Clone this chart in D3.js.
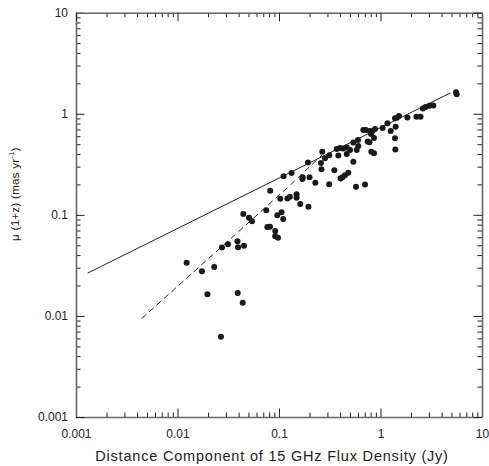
<!DOCTYPE html>
<html>
<head>
    <title>Proper motion vs flux density</title>
    <script src="https://d3js.org/d3.v7.min.js"></script>
    <style>
        body { margin: 0; background: #fff; }
        text { font-family: "Liberation Sans", Arial, sans-serif; fill: #222; }
        .domain { stroke: #666; stroke-width: 1.6; }
        .tick line { stroke: #222; stroke-width: 1; }
        .tick text { font-size: 12px; }
        .axis-label { font-size: 14.5px; letter-spacing: 0.8px; }
    </style>
</head>
<body>
<div id="chart"></div>
<script>
    // Data: distance component of 15 GHz flux density (Jy) and mu(1+z) (mas/yr)
    const fluxDensity = [
        0.0123, 0.0174, 0.0230, 0.0197, 0.0268, 0.0274, 0.0314, 0.0390, 0.0395, 0.0452,
        0.0392, 0.0439, 0.0445, 0.0506, 0.0542, 0.0750, 0.0767, 0.0815, 0.0919, 0.0917,
        0.0977, 0.0819, 0.0962, 0.106, 0.110, 0.103, 0.121, 0.128, 0.149, 0.149,
        0.162, 0.195, 0.111, 0.133, 0.170, 0.171, 0.200, 0.228, 0.312, 0.193,
        0.259, 0.262, 0.267, 0.284, 0.313, 0.351, 0.384, 0.404, 0.422, 0.447,
        0.482, 0.540, 0.465, 0.370, 0.399, 0.427, 0.465, 0.501, 0.583, 0.604,
        0.540, 0.600, 0.574, 0.704, 0.677, 0.720, 0.748, 0.779, 0.812, 0.863,
        0.788, 0.834, 0.883, 0.806, 0.863, 1.05, 1.17, 1.26, 1.41, 1.39,
        1.40, 1.39, 1.45, 1.52, 1.84, 2.26, 2.48, 2.61, 2.78, 3.03,
        3.31, 5.55, 5.63
    ];
    const properMotion = [
        0.0336, 0.0277, 0.0304, 0.0164, 0.00623, 0.0476, 0.0513, 0.0549, 0.0479, 0.0495,
        0.0169, 0.0135, 0.102, 0.0938, 0.0866, 0.111, 0.0759, 0.0764, 0.0693, 0.0615,
        0.0595, 0.173, 0.0993, 0.106, 0.0911, 0.144, 0.145, 0.151, 0.160, 0.148,
        0.128, 0.120, 0.241, 0.260, 0.226, 0.236, 0.236, 0.208, 0.201, 0.329,
        0.325, 0.282, 0.421, 0.364, 0.388, 0.277, 0.387, 0.229, 0.236, 0.247,
        0.261, 0.335, 0.399, 0.447, 0.458, 0.454, 0.465, 0.437, 0.437, 0.479,
        0.519, 0.549, 0.190, 0.200, 0.690, 0.690, 0.531, 0.522, 0.422, 0.406,
        0.677, 0.674, 0.706, 0.630, 0.575, 0.722, 0.804, 0.674, 0.743, 0.572,
        0.444, 0.902, 0.913, 0.953, 0.917, 0.932, 0.934, 1.13, 1.17, 1.20,
        1.21, 1.63, 1.56
    ];

    // Solid line (mu ~ S^0.5) and dashed line
    const solidX = [0.0013, 4.9];
    const solidY = [0.0265, 1.61];
    const dashedX = [0.00444, 0.1235, 0.265];
    const dashedY = [0.00943, 0.189, 0.390];

    // Tick labels
    const majorTicks = [0.001, 0.01, 0.1, 1, 10];
    const tickLabels = ["0.001", "0.01", "0.1", "1", "10"];
    const minorTicks = [];
    majorTicks.slice(0, -1).forEach(d => {
        for (let k = 2; k <= 9; k++) minorTicks.push(d * k);
    });

    const width = 489, height = 466;
    const plot = {left: 76, right: 482, top: 12.7, bottom: 417};

    const x = d3.scaleLog().domain([0.001, 10]).range([plot.left, plot.right]);
    const y = d3.scaleLog().domain([0.001, 10]).range([plot.bottom, plot.top]);

    const svg = d3.select("#chart").append("svg")
        .attr("width", width)
        .attr("height", height);

    const fmt = d => tickLabels[majorTicks.indexOf(d)];

    // Axes on all four sides, ticks pointing inward
    function drawAxis(axisFn, scale, transform, labels) {
        const g = svg.append("g").attr("transform", transform);
        g.call(axisFn(scale).tickValues(minorTicks).tickSize(-4.5).tickFormat(""));
        g.select(".domain").remove();
        const major = svg.append("g").attr("transform", transform)
            .call(axisFn(scale).tickValues(majorTicks).tickSizeInner(-8.5).tickSizeOuter(0)
                .tickPadding(axisFn === d3.axisBottom ? 12 : 8)
                .tickFormat(labels ? fmt : ""));
        return major;
    }

    drawAxis(d3.axisBottom, x, `translate(0,${plot.bottom})`, true);
    drawAxis(d3.axisLeft, y, `translate(${plot.left},0)`, true);
    drawAxis(d3.axisTop, x, `translate(0,${plot.top})`, false);
    drawAxis(d3.axisRight, y, `translate(${plot.right},0)`, false);

    // Lines
    const line = d3.line().x(d => x(d[0])).y(d => y(d[1]));
    svg.append("path")
        .datum(d3.zip(solidX, solidY))
        .attr("d", line)
        .attr("fill", "none")
        .attr("stroke", "#222")
        .attr("stroke-width", 1);
    svg.append("path")
        .datum(d3.zip(dashedX, dashedY))
        .attr("d", line)
        .attr("fill", "none")
        .attr("stroke", "#222")
        .attr("stroke-width", 1)
        .attr("stroke-dasharray", "6,4");

    // Points
    svg.selectAll(".dot")
        .data(d3.zip(fluxDensity, properMotion))
        .enter().append("circle")
        .attr("class", "dot")
        .attr("cx", d => x(d[0]))
        .attr("cy", d => y(d[1]))
        .attr("r", 3)
        .attr("fill", "#1a1a1a");

    // Axis titles
    svg.append("text")
        .attr("class", "axis-label")
        .attr("x", 272)
        .attr("y", 461)
        .attr("text-anchor", "middle")
        .text("Distance Component of 15 GHz Flux Density (Jy)");

    const yTitle = svg.append("text")
        .attr("transform", "translate(19,194) rotate(-90)")
        .attr("text-anchor", "middle")
        .style("font-size", "11.5px")
        .style("letter-spacing", "0.3px");
    yTitle.append("tspan").text("\u03bc (1+z) (mas yr");
    yTitle.append("tspan").attr("dy", -5).style("font-size", "7.5px").text("-1");
    yTitle.append("tspan").attr("dy", 5).text(")");
</script>
</body>
</html>
